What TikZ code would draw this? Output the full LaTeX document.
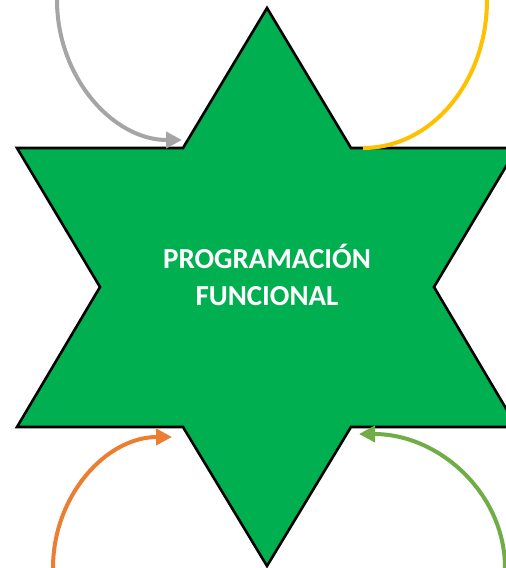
\documentclass[tikz,border=0pt]{standalone}
\usepackage{fontspec}
\setmainfont{Carlito}
\usetikzlibrary{arrows.meta}
\definecolor{stargreen}{HTML}{00B050}
\definecolor{arcgray}{HTML}{A5A5A5}
\definecolor{arcyellow}{HTML}{FFC000}
\definecolor{arcorange}{HTML}{ED7D31}
\definecolor{arcgreen}{HTML}{70AD47}
\tikzset{
  arcline/.style={line width=4pt},
  tipped/.style={-{Triangle[length=16pt,width=16pt]}},
}
\begin{document}
\begin{tikzpicture}[x=1pt,y=-1pt]
\useasboundingbox (0,0) rectangle (506,568);
\clip (0,0) rectangle (506,568);
\fill[white] (0,0) rectangle (506,568);
% star vertices
\coordinate (top) at (267,8);
\coordinate (iul) at (183,148);
\coordinate (oul) at (17,148);
\coordinate (iml) at (100,287);
\coordinate (oll) at (17,427);
\coordinate (ill) at (183,427);
\coordinate (bot) at (267,566);
\coordinate (ilr) at (351,427);
\coordinate (olr) at (517,427);
\coordinate (imr) at (434,287);
\coordinate (our) at (517,148);
\coordinate (iur) at (351,148);
\draw[fill=stargreen, line width=2.6pt, line join=miter]
  (top) -- (iur) -- (our) -- (imr) -- (olr) -- (ilr) -- (bot) -- (ill) -- (oll) -- (iml) -- (oul) -- (iul) -- cycle;
\node[text=white, font=\bfseries\fontsize{29}{37}\selectfont, align=center] (title) at (267,275) {PROGRAMACIÓN\\FUNCIONAL};
% arcs
\coordinate (gs) at (57,0);
\draw[arcline, tipped, arcgray] (gs) arc[start angle=180, end angle=90, x radius=125, y radius=140];
\coordinate (ys) at (487,0);
\draw[arcline, arcyellow] (ys) arc[start angle=0, end angle=90, x radius=124, y radius=148];
\coordinate (os) at (53,568);
\draw[arcline, tipped, arcorange] (os) arc[start angle=180, end angle=270, x radius=119, y radius=131];
\coordinate (grs) at (505,568);
\draw[arcline, tipped, arcgreen] (grs) arc[start angle=0, end angle=-90, x radius=146, y radius=134];
\end{tikzpicture}
\end{document}
